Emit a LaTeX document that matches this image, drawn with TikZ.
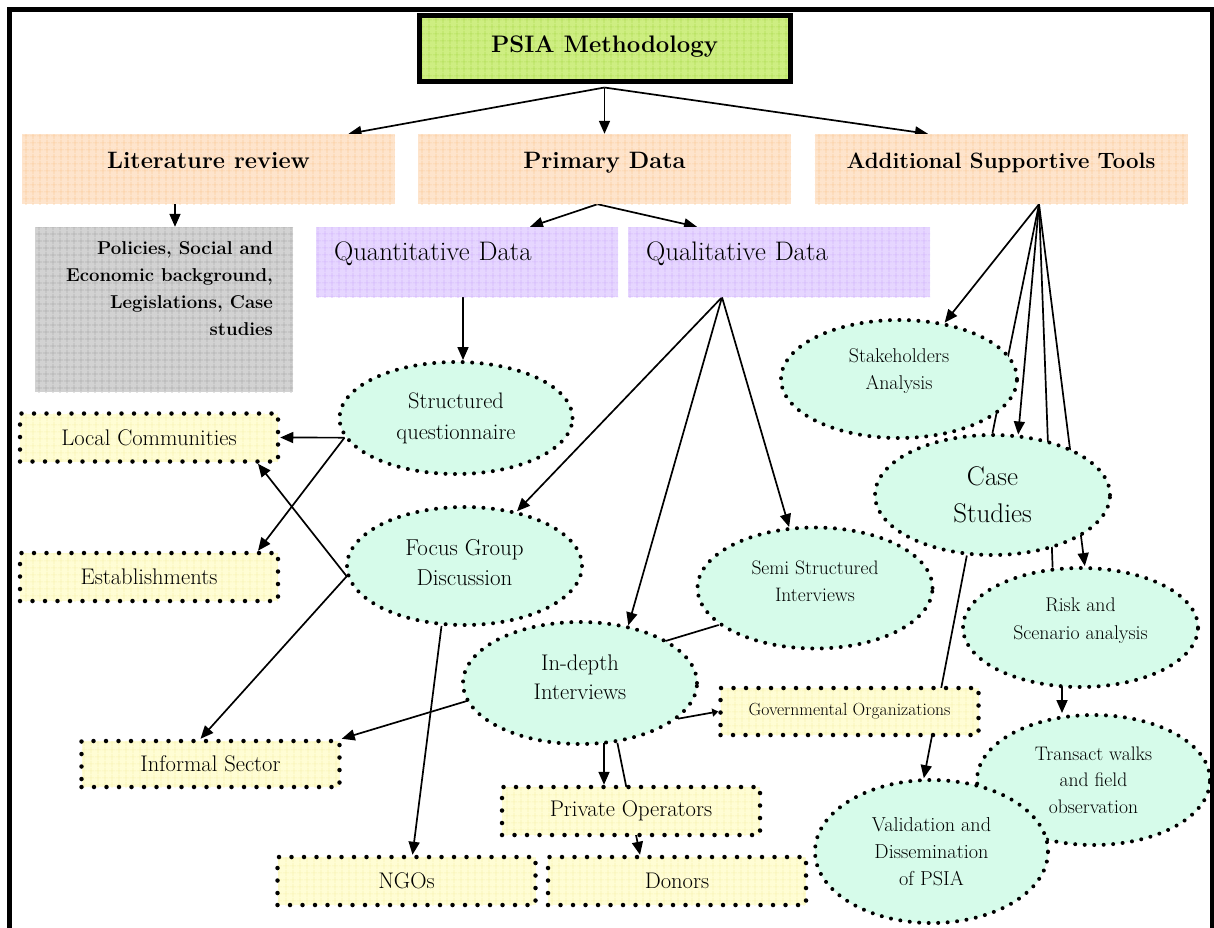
\documentclass[tikz,border=0pt]{standalone}
\usepackage{fontspec}
\usetikzlibrary{arrows.meta,shapes.geometric,patterns.meta,backgrounds,calc}

\definecolor{titlefill}{RGB}{206,238,130}
\definecolor{titlegrid}{RGB}{178,222,88}
\definecolor{orfill}{RGB}{254,228,204}
\definecolor{orgrid}{RGB}{251,206,160}
\definecolor{pufill}{RGB}{230,214,255}
\definecolor{pugrid}{RGB}{212,184,252}
\definecolor{grfill}{RGB}{210,210,210}
\definecolor{grgrid}{RGB}{178,178,178}
\definecolor{yefill}{RGB}{255,253,212}
\definecolor{yegrid}{RGB}{248,243,180}
\definecolor{mint}{RGB}{214,251,234}

% extra depth on the last line lifts a centred block of text
\newcommand{\tlift}[1]{\rule[-#1]{0pt}{#1}}

\begin{document}
\begin{tikzpicture}[x=1pt,y=-1pt,
  textured/.style 2 args={preaction={fill=#1},
    pattern={Hatch[angle=0,distance=6.5pt,line width=0.6pt]},pattern color=#2},
  titlebox/.style={textured={titlefill}{titlegrid}, draw, line width=5pt,
    minimum width=371pt, inner xsep=0pt, inner ysep=0pt,
    text height=37pt, text depth=29pt,
    font=\bfseries\fontsize{23.9}{28}\selectfont},
  headbox/.style={textured={orfill}{orgrid}, minimum width=373pt,
    inner xsep=0pt, inner ysep=0pt, text height=34pt, text depth=36pt,
    font=\bfseries\fontsize{23.7}{28}\selectfont},
  databox/.style={textured={pufill}{pugrid}, text width=266pt, align=left,
    inner xsep=18pt, inner ysep=0pt, text height=33pt, text depth=37pt,
    font=\fontsize{26.8}{30}\selectfont},
  actor/.style={textured={yefill}{yegrid}, draw, line width=4.5pt,
    line cap=round, dash pattern=on 0pt off 12.5pt,
    minimum width=258pt, minimum height=48pt, inner sep=0pt,
    font=\fontsize{22.6}{26}\selectfont},
  tool/.style={ellipse, fill=mint, draw, line width=4pt, line cap=round,
    dash pattern=on 0pt off 9.5pt, inner sep=0pt, align=center},
  arr/.style={-{Triangle[length=13pt,width=11pt]}, line width=1.7pt},
  ln/.style={line width=1.7pt}
]
\useasboundingbox (0,0) rectangle (1214,927);

% ---- top level ----
\node[titlebox] (title) at (604.5,48) {PSIA Methodology};
\node[headbox] (lr) at (208.5,169) {Literature review};
\node[headbox] (pd) at (604.5,169) {Primary Data};
\node[headbox, font=\bfseries\fontsize{22.2}{26}\selectfont] (ast) at (1001,169) {Additional Supportive Tools};

% ---- literature review contents ----
\node[textured={grfill}{grgrid}, minimum width=258pt, minimum height=165pt, inner sep=0pt] (bg) at (164,309.5) {};
\node[anchor=north east, align=right, inner sep=0pt,
      font=\bfseries\fontsize{18.6}{27}\selectfont] (bgtext)
      at ([xshift=-20pt,yshift=-15pt]bg.north east)
      {Policies, Social and\\Economic background,\\Legislations, Case\\studies};

% ---- primary data ----
\node[databox] (quant) at (467,262) {Quantitative Data};
\node[databox] (qual) at (779,262) {Qualitative Data};

\node[tool, minimum width=233pt, minimum height=112pt, font=\fontsize{22.4}{31}\selectfont] (sq) at (456,418) {Structured\\questionnaire};
\node[tool, minimum width=235pt, minimum height=118pt, font=\fontsize{23}{30}\selectfont] (fgd) at (464.5,566) {Focus Group\\Discussion\tlift{8pt}};
\node[tool, minimum width=234pt, minimum height=122pt, font=\fontsize{22.6}{29}\selectfont] (id) at (580,683) {In-depth\\Interviews\tlift{11pt}};
\node[tool, minimum width=235pt, minimum height=121pt, font=\fontsize{19.5}{27}\selectfont] (ssi) at (815,588) {Semi Structured\\Interviews\tlift{13pt}};

% ---- stakeholder groups ----
\node[actor] (lc) at (149,437.5) {Local Communities};
\node[actor] (est) at (149,577) {Establishments};
\node[actor, minimum height=46pt] (inf) at (210.5,764) {Informal Sector};
\node[actor, minimum height=47pt, font=\fontsize{17.6}{20}\selectfont] (gov) at (849.5,711.5) {Governmental Organizations};
\node[actor] (po) at (631,811) {Private Operators};
\node[actor] (ngo) at (406.5,881) {NGOs};
\node[actor] (don) at (677,881) {Donors};

% ---- supportive tools ----
\node[tool, minimum width=236pt, minimum height=118pt, font=\fontsize{19.9}{27}\selectfont] (sa) at (899,379) {Stakeholders\\Analysis\tlift{20pt}};
\node[tool, minimum width=235pt, minimum height=120pt, font=\fontsize{27}{37}\selectfont] (cs) at (992.5,495) {Case\\Studies};
\node[tool, minimum width=235pt, minimum height=119pt, font=\fontsize{19.8}{28}\selectfont] (rsa) at (1080.5,627.5) {Risk and\\Scenario analysis\tlift{18pt}};
\node[tool, minimum width=233pt, minimum height=130pt, font=\fontsize{19.6}{26.5}\selectfont] (tw) at (1093.5,780) {Transact walks\\and field\\observation};
\node[tool, minimum width=233pt, minimum height=143pt, font=\fontsize{20.2}{27}\selectfont] (vd) at (931.5,851.5) {Validation and\\Dissemination\\of PSIA};

% ---- connectors, kept under the shapes ----
\coordinate (titlefoot) at ([yshift=-4pt]title.south);
\coordinate (pdfoot) at ([xshift=-7pt]pd.south);
\coordinate (astfoot) at ([xshift=38pt]ast.south);
\coordinate (qualfoot) at ([xshift=-57pt]qual.south);
\coordinate (lrout) at ([xshift=-33.5pt]lr.south);
\coordinate (quantout) at ([xshift=-4pt]quant.south);
\coordinate (poin) at ([xshift=-27pt]po.north);
\coordinate (rsaout) at ([xshift=-18.5pt]rsa.center);

\begin{pgfonlayer}{background}
\draw[arr] (titlefoot) -- ([xshift=140pt]lr.north);
\draw[arr] (titlefoot) -- (pd.north);
\draw[arr] (titlefoot) -- ([xshift=-73pt]ast.north);
\draw[arr] (lrout) -- (lrout |- bg.north);
\draw[arr] (pdfoot) -- ([xshift=63pt]quant.north);
\draw[arr] (pdfoot) -- ([xshift=-82pt]qual.north);
\draw[arr] (quantout) -- (quantout |- sq.north);
\draw[arr] (qualfoot) -- (fgd);
\draw[arr] (qualfoot) -- (id.50);
\draw[arr] (qualfoot) -- (ssi.113);
\draw[arr] (sq.190) -- (lc.east);
\draw[arr] (sq.190) -- ([xshift=109pt]est.north);
\draw[arr] (fgd.185) -- ([xshift=109pt]lc.south);
\draw[arr] (fgd.185) -- ([xshift=-10pt]inf.north);
\draw[arr] (fgd.249) -- ([xshift=6pt]ngo.north);
\draw[arr] (ssi.201) -- (inf.north east);
\draw[-{Triangle[length=6pt,width=8pt]}, line width=1.7pt] (id.340) -- (gov.west);
\draw[arr] (poin |- id.center) -- (poin);
\draw[arr] (id.302) -- ([xshift=-37pt]don.north);
\draw[arr] (astfoot) -- (sa.51);
\draw[ln]  (astfoot) -- (cs.north);
\draw[arr] (astfoot) -- (cs.67);
\draw[ln]  (astfoot) -- (rsa.115);
\draw[arr] (astfoot) -- (rsa.86);
\draw[arr] (cs.247) -- (vd.96);
\draw[arr] (rsaout) -- (rsaout |- tw.north);
\end{pgfonlayer}

% ---- page frame ----
\draw[line width=5pt] (9.5,940) -- (9.5,9.5) -- (1212,9.5) -- (1212,940);
\end{tikzpicture}
\end{document}
